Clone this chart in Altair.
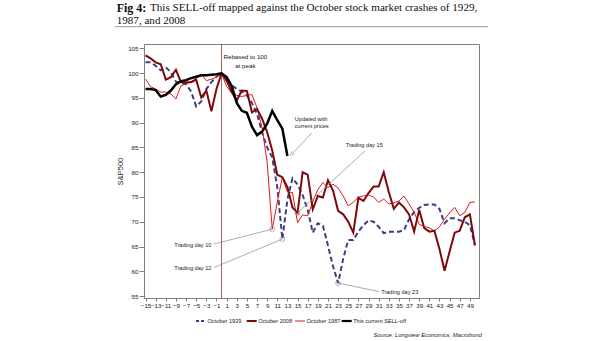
import altair as alt
import pandas as pd

# ---------------- data ----------------
days_full = list(range(-15, 51))
days_now = list(range(-15, 14))

v1929 = [102.2, 102.2, 101.5, 100.6, 101.2, 100.2, 98.3, 98.0, 97.8, 96.3, 93.3, 94.3, 96.8, 98.2, 99.3, 100.0,
         98.8, 97.6, 96.8, 96.3, 95.5, 94.0, 91.8, 88.0, 85.0, 83.0, 77.0, 66.5, 74.5, 78.8, 77.5, 75.4, 72.4,
         67.8, 69.7, 69.2, 65.2, 61.0, 57.6, 62.5, 66.3, 66.3, 68.0, 69.3, 70.3, 70.0, 69.0, 67.7, 68.0, 68.0,
         68.0, 68.3, 70.5, 72.0, 72.8, 73.4, 73.5, 73.5, 72.6, 69.7, 70.7, 70.7, 70.3, 70.0, 69.3, 65.3]
v2008 = [103.6, 103.0, 102.2, 101.8, 98.7, 99.2, 100.7, 98.2, 98.2, 98.2, 98.7, 95.1, 96.5, 92.3, 96.8, 100.0,
         98.5, 96.2, 94.5, 96.5, 96.4, 92.1, 92.8, 90.8, 88.1, 84.4, 79.5, 79.0, 77.0, 72.9, 71.8, 80.0, 79.5,
         72.5, 75.2, 74.9, 78.4, 76.3, 72.2, 71.5, 70.0, 67.8, 74.8, 74.2, 75.8, 77.1, 77.1, 80.0, 76.0, 72.6,
         73.9, 72.9, 71.5, 68.0, 72.4, 68.7, 68.0, 68.2, 64.5, 60.1, 64.0, 67.8, 68.2, 70.9, 71.5, 65.2]
v1987 = [98.8, 97.3, 96.8, 96.2, 96.2, 95.8, 94.8, 97.5, 97.8, 98.3, 99.0, 99.8, 98.5, 98.8, 99.2, 100.0,
         97.3, 96.0, 95.5, 95.3, 95.5, 95.7, 93.0, 89.0, 82.0, 68.5, 74.0, 79.0, 76.0, 75.9, 69.8, 71.4, 71.2,
         74.0, 76.5, 77.9, 76.9, 77.6, 76.8, 75.2, 73.2, 73.9, 75.0, 75.2, 75.4, 75.0, 73.9, 74.6, 73.6, 73.8,
         74.2, 75.2, 73.6, 71.9, 69.5, 69.0, 68.8, 68.1, 69.0, 70.5, 71.8, 72.9, 71.2, 71.9, 73.9, 74.0]
vnow = [96.8, 96.8, 96.6, 95.3, 95.6, 96.5, 97.8, 98.4, 98.6, 99.0, 99.3, 99.6, 99.6, 99.7, 99.8, 100.0,
        99.2, 97.4, 94.0, 92.4, 92.0, 89.2, 87.5, 88.2, 89.8, 92.4, 90.5, 88.8, 83.3]

series_names = ["October 1929", "October 2008", "October 1987", "This current SELL-off"]
series_colors = ["#3f3f80", "#7d0a0a", "#e3171c", "#000000"]

x_ticks = list(range(-15, 50, 2))
y_ticks = list(range(55, 106, 5))

# annotations (circles on series at trading days)
ann_labels = ["Trading day 10", "Trading day 12", "Trading day 15", "Trading day 23"]
ann_series = ["October 1987", "October 1929", "October 2008", "October 1929"]
ann_days = [10, 12, 15, 23]
ann_text_day = [-2.0, -2.0, 24.5, 31.5]
ann_text_value = [65.3, 60.6, 85.6, 55.75]
ann_text_align = ["right", "right", "left", "left"]
ann_line_day = [-1.5, -1.5, 28.3, 31.1]
ann_line_value = [65.5, 60.75, 84.3, 55.9]

FONT = "Liberation Sans, Arial, sans-serif"
SERIF = "Liberation Serif, Times New Roman, serif"
SMALL = 5.6

values_by_name = {
    "October 1929": (days_full, v1929),
    "October 2008": (days_full, v2008),
    "October 1987": (days_full, v1987),
    "This current SELL-off": (days_now, vnow),
}

X = alt.X("day:Q", title=None,
          scale=alt.Scale(domain=[-15.3, 50.8], nice=False, zero=False),
          axis=alt.Axis(values=x_ticks, labelFontSize=6.2, labelFont=FONT, tickSize=3,
                        labelPadding=1, grid=False, domainColor="#808080", tickColor="#808080",
                        labelColor="#222", labelFlush=False, labelOverlap=False))
Y = alt.Y("value:Q", title="S&P500",
          scale=alt.Scale(domain=[54.6, 105.9], nice=False, zero=False),
          axis=alt.Axis(values=y_ticks, labelFontSize=6.2, labelFont=FONT, tickSize=5,
                        labelPadding=1, grid=False, domainColor="#808080", tickColor="#808080",
                        labelColor="#222", titleFont=FONT, titleFontSize=7.5, titleFontWeight="normal",
                        titlePadding=3, titleColor="#222"))


def df_for(name):
    d, v = values_by_name[name]
    return pd.DataFrame({"day": d, "value": v})


layers = []

# vertical line at the peak
layers.append(alt.Chart(pd.DataFrame({"day": [0]})).mark_rule(color="#7b3b3b", strokeWidth=0.8)
              .encode(x=X))

styles = {
    "October 1929": dict(strokeWidth=2, strokeDash=[5, 3]),
    "October 1987": dict(strokeWidth=1),
    "October 2008": dict(strokeWidth=2),
    "This current SELL-off": dict(strokeWidth=2.5),
}
for name in ["October 1929", "October 1987", "October 2008", "This current SELL-off"]:
    col = series_colors[series_names.index(name)]
    layers.append(alt.Chart(df_for(name)).mark_line(color=col, **styles[name]).encode(x=X, y=Y))

# annotation circles and connectors
circ_vals = []
for s, d in zip(ann_series, ann_days):
    dd, vv = values_by_name[s]
    circ_vals.append(vv[dd.index(d)])
ann_df = pd.DataFrame({
    "day": ann_days, "value": circ_vals,
    "day2": ann_line_day, "value2": ann_line_value,
})
layers.append(alt.Chart(ann_df).mark_rule(color="#8a8a8a", strokeWidth=0.7)
              .encode(x=X, y=Y, x2="day2:Q", y2="value2:Q"))
layers.append(alt.Chart(ann_df).mark_point(shape="circle", filled=False, color="#777777",
                                           size=24, strokeWidth=0.8).encode(x=X, y=Y))
for lab, td, tv, al in zip(ann_labels, ann_text_day, ann_text_value, ann_text_align):
    layers.append(alt.Chart(pd.DataFrame({"day": [td], "value": [tv], "t": [lab]}))
                  .mark_text(align=al, baseline="middle", fontSize=SMALL, font=FONT, color="#222")
                  .encode(x=X, y=Y, text="t:N"))

# "Updated with current prices" arrow
upd_df = pd.DataFrame({"day": [17.8], "value": [87.9], "day2": [13.9], "value2": [83.7]})
layers.append(alt.Chart(upd_df).mark_rule(color="#8a8a8a", strokeWidth=0.7)
              .encode(x=X, y=Y, x2="day2:Q", y2="value2:Q"))
layers.append(alt.Chart(pd.DataFrame({"day": [13.9], "value": [83.7]}))
              .mark_point(shape="M-1,1L0,-1L1,1", filled=False, color="#8a8a8a", size=20,
                          strokeWidth=0.7, angle=224).encode(x=X, y=Y))
layers.append(alt.Chart(pd.DataFrame({"day": [14.45, 14.45], "value": [90.7, 89.4],
                                      "t": ["Updated with", "current prices"]}))
              .mark_text(align="left", baseline="middle", fontSize=SMALL, font=FONT, color="#222")
              .encode(x=X, y=Y, text="t:N"))
layers.append(alt.Chart(pd.DataFrame({"day": [4.7, 4.7], "value": [103.2, 101.4],
                                      "t": ["Rebased to 100", "at peak"]}))
              .mark_text(align="center", baseline="middle", fontSize=6.2, font=FONT, color="#111")
              .encode(x=X, y=Y, text="t:N"))

# title
layers.append(alt.Chart(pd.DataFrame({"t": ["Fig 4:"]})).mark_text(
    align="left", baseline="middle", fontSize=12, font=SERIF, fontWeight="bold", color="#111")
    .encode(x=alt.value(-27.3), y=alt.value(-36.5), text="t:N"))
layers.append(alt.Chart(pd.DataFrame({"t": ["This SELL-off mapped against the October stock market crashes of 1929,"]}))
              .mark_text(align="left", baseline="middle", fontSize=11.1, font=SERIF, color="#111")
              .encode(x=alt.value(6), y=alt.value(-36.5), text="t:N"))
layers.append(alt.Chart(pd.DataFrame({"t": ["1987, and 2008"]}))
              .mark_text(align="left", baseline="middle", fontSize=11.1, font=SERIF, color="#111")
              .encode(x=alt.value(-27.3), y=alt.value(-23.3), text="t:N"))
layers.append(alt.Chart(pd.DataFrame({"a": [0]})).mark_rule(color="#808080", strokeWidth=0.8)
              .encode(x=alt.value(-29), x2=alt.value(344), y=alt.value(-17.3)))

# legend (manual)
leg_sym_x = [52, 102.7, 151, 197.7]
leg_sym_w = 10
leg_y = 277
for i, name in enumerate(series_names):
    st = styles[name]
    kw = dict(color=series_colors[i], strokeWidth=min(st["strokeWidth"], 2.2))
    if "strokeDash" in st:
        kw["strokeDash"] = [3, 2]
    layers.append(alt.Chart(pd.DataFrame({"a": [0]})).mark_rule(**kw)
                  .encode(x=alt.value(leg_sym_x[i]), x2=alt.value(leg_sym_x[i] + leg_sym_w),
                          y=alt.value(leg_y)))
    layers.append(alt.Chart(pd.DataFrame({"t": [name]})).mark_text(
        align="left", baseline="middle", fontSize=SMALL, font=FONT, color="#222")
        .encode(x=alt.value(leg_sym_x[i] + leg_sym_w + 1.5), y=alt.value(leg_y), text="t:N"))

# source
layers.append(alt.Chart(pd.DataFrame({"t": ["Source: Longview Economics, Macrobond"]})).mark_text(
    align="right", baseline="middle", fontSize=5.8, font=FONT, fontStyle="italic", color="#222")
    .encode(x=alt.value(337.7), y=alt.value(291), text="t:N"))

chart = alt.layer(*layers).properties(
    width=335, height=254,
    padding={"left": 144, "top": 44, "right": 126, "bottom": 43},
    autosize=alt.AutoSizeParams(type="none"),
    background="white",
).configure_view(stroke="#808080", strokeWidth=1)

chart.save("out.html", embed_options={"renderer": "svg", "actions": False})
